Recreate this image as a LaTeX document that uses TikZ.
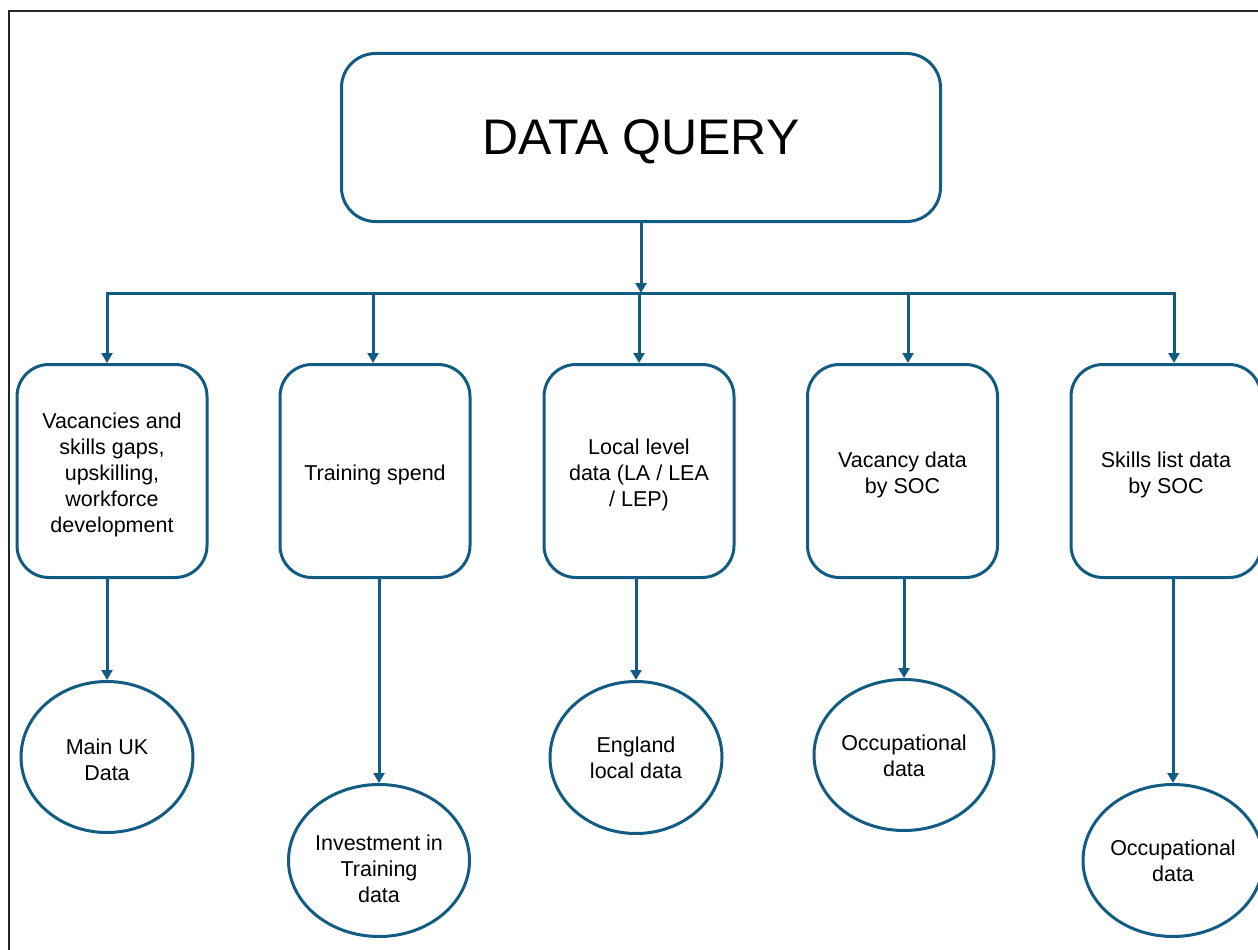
\documentclass[tikz,border=0pt]{standalone}
\usepackage{fontspec}
\setmainfont{Liberation Sans}
\usetikzlibrary{arrows.meta,shapes.geometric}
\definecolor{flowblue}{RGB}{18,92,132}
\begin{document}
\begin{tikzpicture}[x=1pt,y=-1pt,
  boxline/.style={draw=flowblue, line width=3pt},
  txt/.style={align=center, font=\fontsize{21.5}{26}\selectfont, inner sep=0pt},
  topbox/.style={boxline, rounded corners=34pt, minimum width=599pt,
    minimum height=168pt, inner sep=0pt, text depth=0pt,
    font=\fontsize{50}{58}\selectfont},
  itembox/.style={boxline, rounded corners=32pt, minimum width=190pt,
    minimum height=213pt},
  oval/.style={boxline, ellipse, inner sep=0pt},
  link/.style={draw=flowblue, line width=3pt,
    -{Triangle[length=10pt,width=11pt]}},
  bar/.style={draw=flowblue, line width=3pt, line cap=rect}]

\useasboundingbox (0,0) rectangle (1258,950);
\clip (0,0) rectangle (1258,950);
\fill[white] (0,0) rectangle (1258,950);

% outer frame
\draw[black!85, line width=2pt] (9,11) rectangle (1300,1000);

% top node
\node[topbox] (query) at (641,137.5) {DATA QUERY};

% distribution bus
\coordinate (hub) at (641,293);
\coordinate (tap1) at (107,293);
\coordinate (tap2) at (373,293);
\coordinate (tap3) at (639,293);
\coordinate (tap4) at (908,293);
\coordinate (tap5) at (1174,293);

% second-level boxes
\node[itembox, label={[txt, yshift=-3.5pt]center:Vacancies and\\skills gaps,\\upskilling,\\workforce\\development}] (b1) at (112,471) {};
\node[itembox, label={[txt, yshift=-3.5pt]center:Training spend}] (b2) at (375,471) {};
\node[itembox, label={[txt, yshift=-3.5pt]center:Local level\\data (LA / LEA\\/ LEP)}] (b3) at (639,471) {};
\node[itembox, label={[txt, yshift=-3.5pt]center:Vacancy data\\by SOC}] (b4) at (902.5,471) {};
\node[itembox, label={[txt, yshift=-3.5pt]center:Skills list data\\by SOC}] (b5) at (1166,471) {};

% data sources
\node[oval, minimum width=172pt, minimum height=151pt,
  label={[txt, yshift=-2.5pt]center:Main UK\\Data}] (e1) at (107,757) {};
\node[oval, minimum width=181pt, minimum height=152pt,
  label={[txt, yshift=-8pt]center:Investment in\\Training\\data}] (e2) at (379,860.5) {};
\node[oval, minimum width=172pt, minimum height=152pt,
  label={[txt]center:England\\local data}] (e3) at (636,757.5) {};
\node[oval, minimum width=180pt, minimum height=151pt,
  label={[txt, yshift=-1pt]center:Occupational\\data}] (e4) at (904,755) {};
\node[oval, minimum width=180pt, minimum height=152pt,
  label={[txt]center:Occupational\\data}] (e5) at (1173,860.5) {};

% connectors
\draw[link] (query) -- (hub);
\draw[bar] (tap1) -- (tap5);
\foreach \i in {1,...,5}{
  \draw[link] (tap\i) -- (tap\i |- b\i.north);
  \draw[link] (b\i.south -| e\i) -- (e\i);
}
\end{tikzpicture}
\end{document}
